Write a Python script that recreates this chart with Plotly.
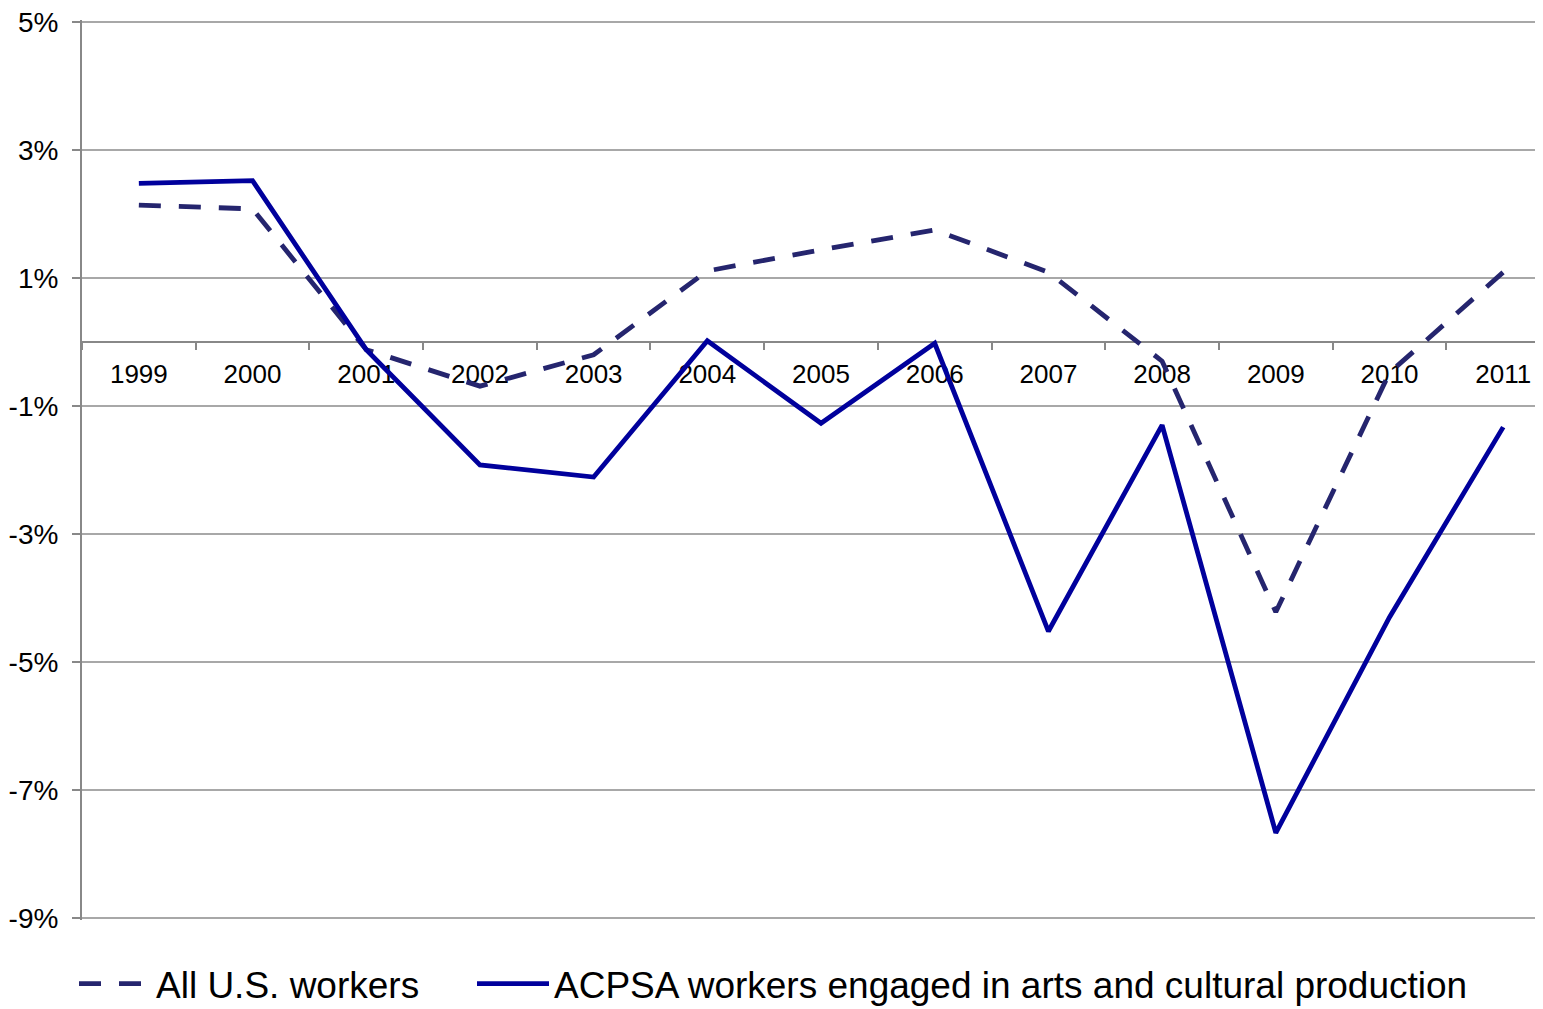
import plotly.graph_objects as go

years = ["1999", "2000", "2001", "2002", "2003", "2004", "2005",
         "2006", "2007", "2008", "2009", "2010", "2011"]
all_us = [2.14, 2.08, -0.12, -0.69, -0.20, 1.11, 1.44, 1.75, 1.09, -0.30, -4.22, -0.48, 1.09]
acpsa = [2.48, 2.52, -0.12, -1.92, -2.11, 0.02, -1.27, -0.02, -4.52, -1.30, -7.67, -4.30, -1.33]
y_ticks = [5, 3, 1, -1, -3, -5, -7, -9]

FONT = "Arial, Liberation Sans, sans-serif"
W, H = 1535, 1001  # page body adds an 8px offset

fig = go.Figure()
fig.add_trace(go.Scatter(
    x=years, y=all_us, mode="lines", name="All U.S. workers",
    line=dict(color="#25256E", width=4.8, dash="22px,18px"),
    legend="legend",
))
fig.add_trace(go.Scatter(
    x=years, y=acpsa, mode="lines",
    name="ACPSA workers engaged in arts and cultural production",
    line=dict(color="#00009C", width=4.8),
    legend="legend2",
))

legend_common = dict(orientation="h", xref="container", yref="container",
                     xanchor="left", y=25 / H, yanchor="middle",
                     font=dict(size=37, family=FONT), itemwidth=72,
                     bgcolor="rgba(0,0,0,0)")

fig.update_layout(
    width=W, height=H,
    margin=dict(l=74, r=0, t=12, b=89, autoexpand=False),
    paper_bgcolor="white", plot_bgcolor="white",
    font=dict(family=FONT, color="black"),
    showlegend=True,
    legend=dict(x=66 / W, **legend_common),
    legend2=dict(x=464 / W, **legend_common),
    xaxis=dict(
        type="category", range=[-0.5, 12.35],
        anchor="free", position=(9.03125) / 14.0625,
        showline=True, linecolor="#888888", linewidth=2,
        ticks="outside", tickson="boundaries", ticklen=7, tickcolor="#888888", tickwidth=2,
        showgrid=False, zeroline=False,
        tickfont=dict(size=26, family=FONT, color="black"),
        ticklabelstandoff=9,
        layer="below traces",
    ),
    yaxis=dict(
        range=[-9.03125, 5.03125], tickvals=y_ticks, ticktext=[f"{v}%" for v in y_ticks],
        showline=True, linecolor="#888888", linewidth=2,
        ticks="outside", ticklen=8, tickcolor="#888888", tickwidth=2,
        showgrid=True, gridcolor="#A8A8A8", gridwidth=1.5,
        zeroline=False,
        tickfont=dict(size=28, family=FONT, color="black"),
        ticklabelstandoff=8,
        ticklabeloverflow="allow",
    ),
)

fig.write_html("out.html")
